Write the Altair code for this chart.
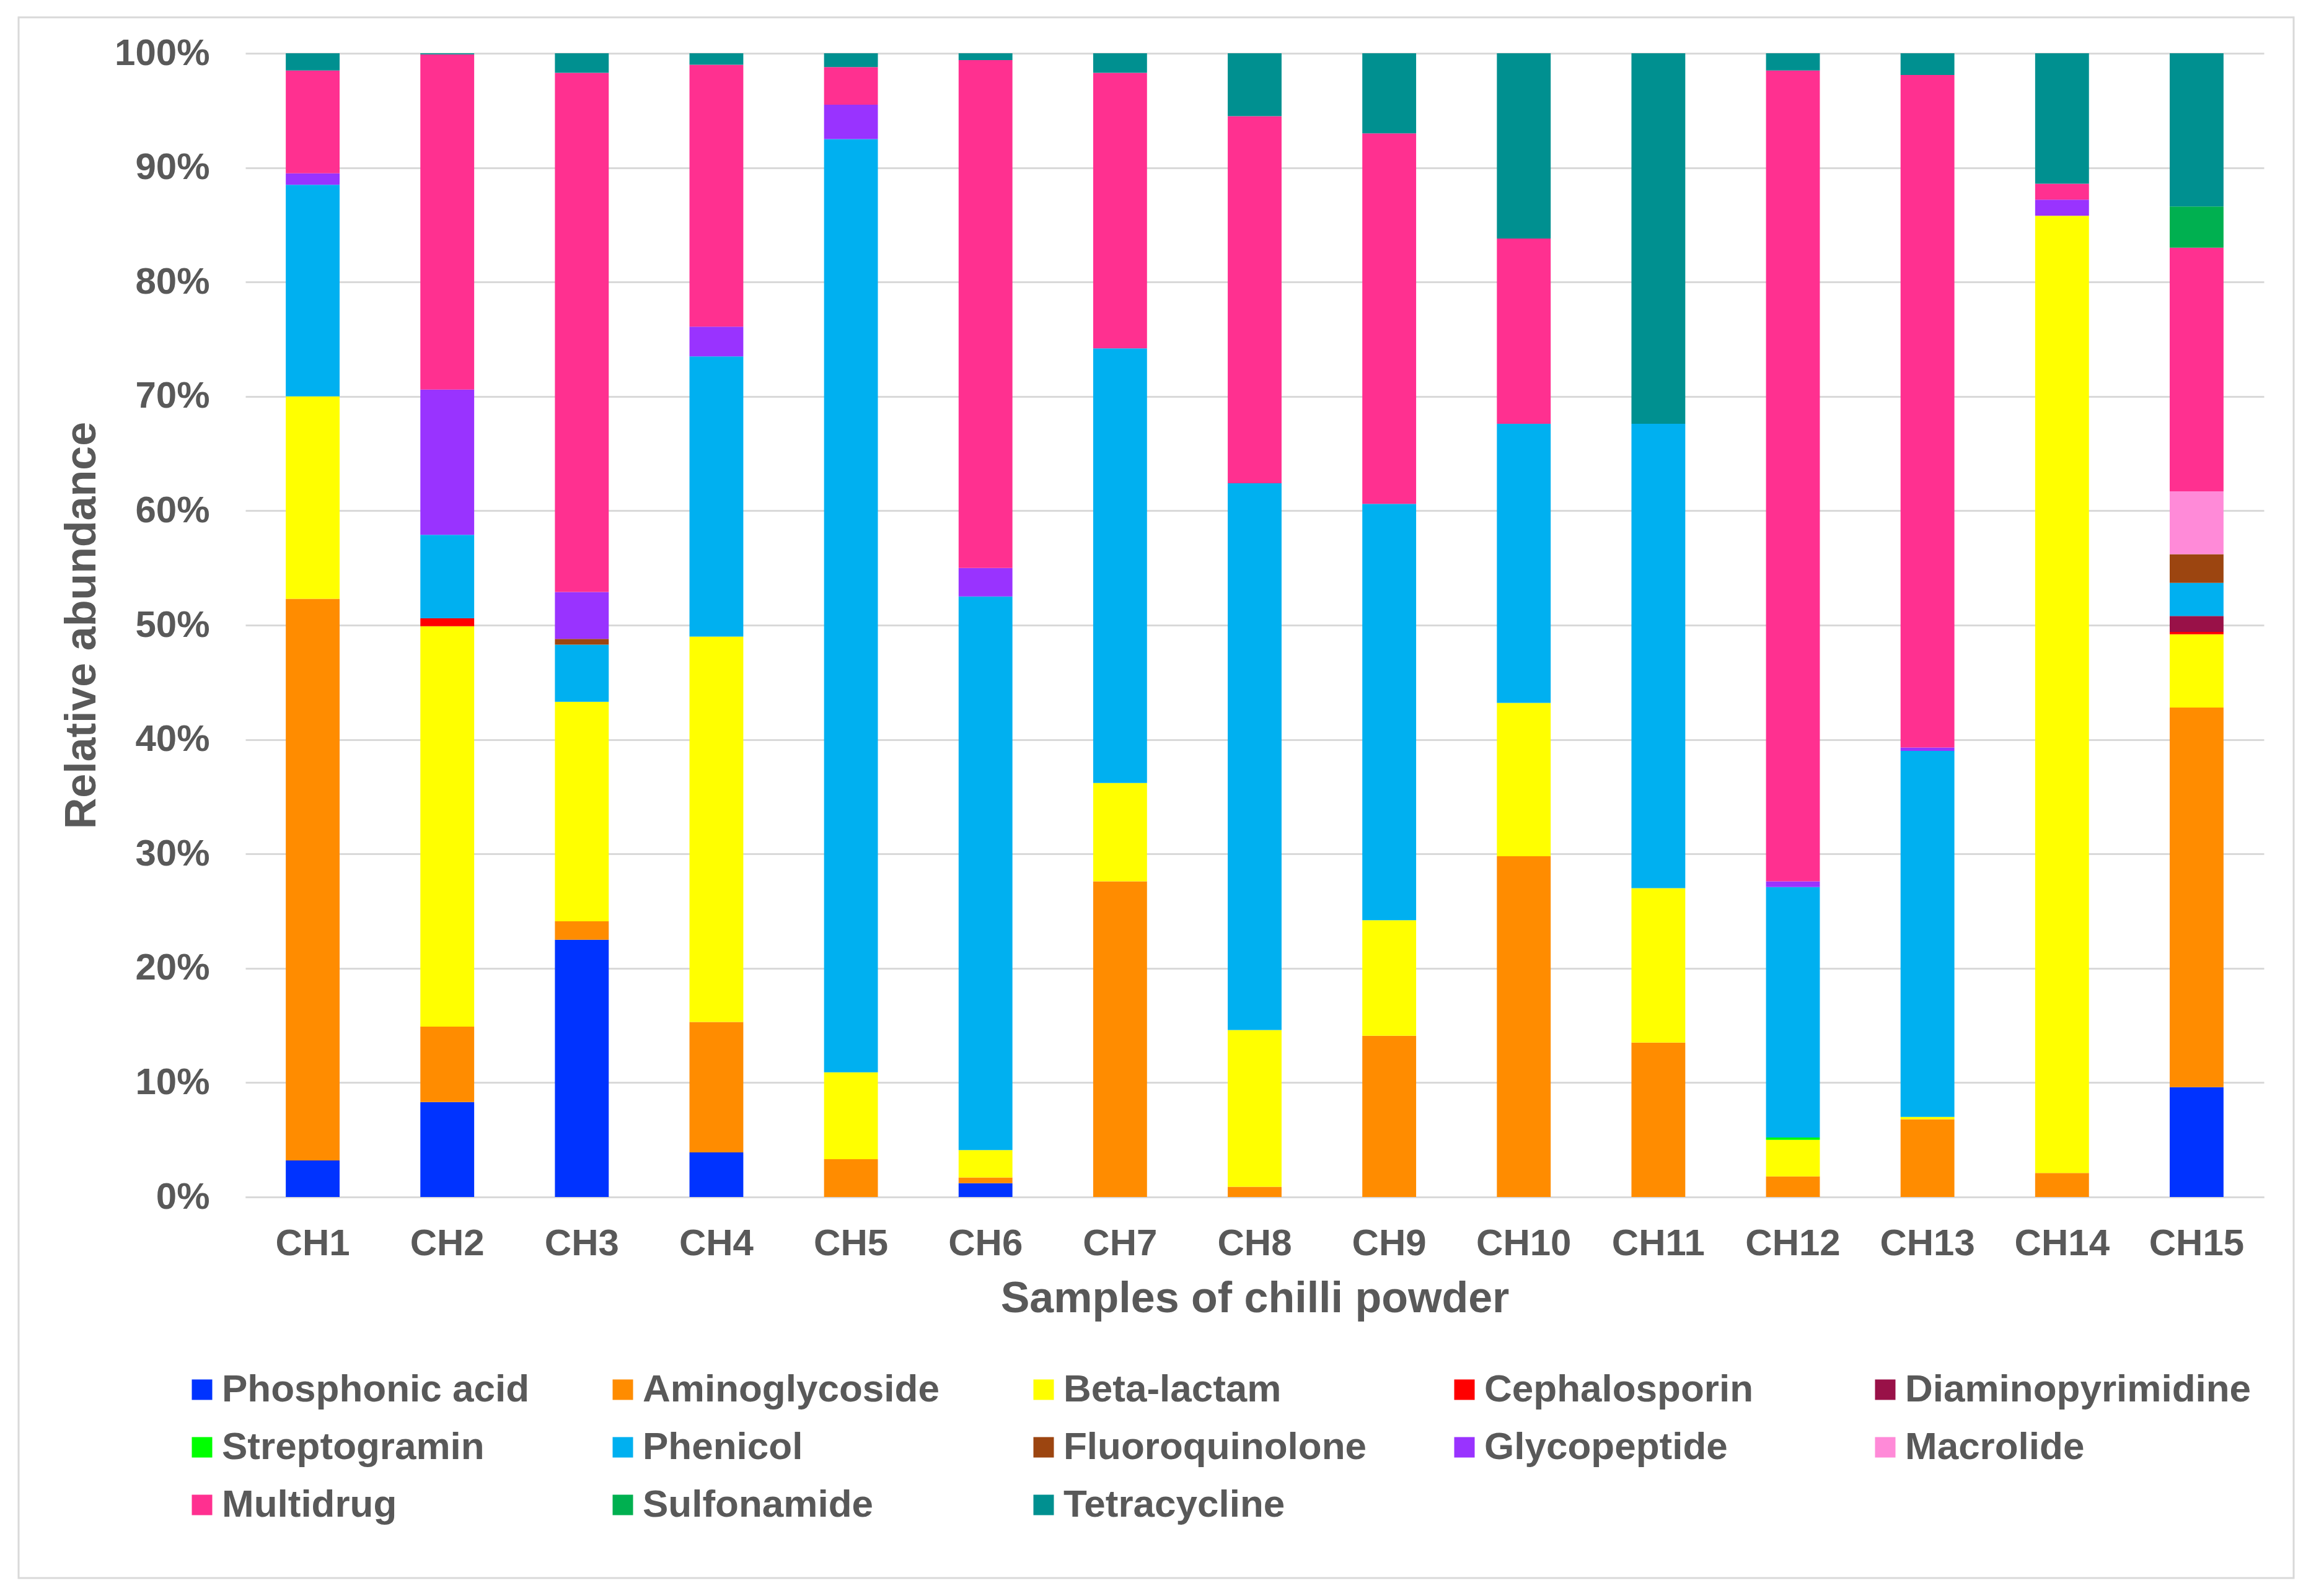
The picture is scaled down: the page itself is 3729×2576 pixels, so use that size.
import altair as alt
import pandas as pd

samples = ["CH1", "CH2", "CH3", "CH4", "CH5", "CH6", "CH7", "CH8",
           "CH9", "CH10", "CH11", "CH12", "CH13", "CH14", "CH15"]

classes = ["Phosphonic acid", "Aminoglycoside", "Beta-lactam", "Cephalosporin",
           "Diaminopyrimidine", "Streptogramin", "Phenicol", "Fluoroquinolone",
           "Glycopeptide", "Macrolide", "Multidrug", "Sulfonamide", "Tetracycline"]

colors = ["#0033FF", "#FF8C00", "#FFFF00", "#FF0000",
          "#991148", "#00FF00", "#00B0F0", "#9C4510",
          "#9933FF", "#FF8AD8", "#FF3090", "#00B050", "#009090"]

# relative abundance (%) per sample, CH1..CH15
phosphonic_acid   = [3.2, 8.3, 22.5, 3.9, 0, 1.2, 0, 0, 0, 0, 0, 0, 0, 0, 9.6]
aminoglycoside    = [49.1, 6.6, 1.6, 11.4, 3.3, 0.5, 27.6, 0.9, 14.1, 29.8, 13.5, 1.8, 6.8, 2.1, 33.2]
beta_lactam       = [17.7, 35.0, 19.2, 33.7, 7.6, 2.4, 8.6, 13.7, 10.1, 13.4, 13.5, 3.2, 0.2, 83.7, 6.4]
cephalosporin     = [0, 0.7, 0, 0, 0, 0, 0, 0, 0, 0, 0, 0, 0, 0, 0.2]
diaminopyrimidine = [0, 0, 0, 0, 0, 0, 0, 0, 0, 0, 0, 0, 0, 0, 1.4]
streptogramin     = [0, 0, 0, 0, 0, 0, 0, 0, 0, 0, 0, 0.2, 0, 0, 0]
phenicol          = [18.5, 7.3, 5.0, 24.5, 81.6, 48.4, 38.0, 47.8, 36.4, 24.4, 40.6, 21.9, 32.0, 0, 2.9]
fluoroquinolone   = [0, 0, 0.5, 0, 0, 0, 0, 0, 0, 0, 0, 0, 0, 0, 2.5]
glycopeptide      = [1.0, 12.7, 4.1, 2.6, 3.0, 2.5, 0, 0, 0, 0, 0, 0.5, 0.3, 1.4, 0]
macrolide         = [0, 0, 0, 0, 0, 0, 0, 0, 0, 0, 0, 0, 0, 0, 5.5]
multidrug         = [9.0, 29.3, 45.4, 22.9, 3.3, 44.4, 24.1, 32.1, 32.4, 16.2, 0, 70.9, 58.8, 1.4, 21.3]
sulfonamide       = [0, 0, 0, 0, 0, 0, 0, 0, 0, 0, 0, 0, 0, 0, 3.6]
tetracycline      = [1.5, 0.1, 1.7, 1.0, 1.2, 0.6, 1.7, 5.5, 7.0, 16.2, 32.4, 1.5, 1.9, 11.4, 13.4]

series = [phosphonic_acid, aminoglycoside, beta_lactam, cephalosporin,
          diaminopyrimidine, streptogramin, phenicol, fluoroquinolone,
          glycopeptide, macrolide, multidrug, sulfonamide, tetracycline]

rows = []
for ci, (cls, vals) in enumerate(zip(classes, series)):
    for s, v in zip(samples, vals):
        if v > 0:
            rows.append({"sample": s, "cls": cls, "value": v, "order": ci})
df = pd.DataFrame(rows)

FONT = "Liberation Sans, Arial, Helvetica, sans-serif"
GRAY = "#595959"
GRID = "#d9d9d9"

bars = alt.Chart(df).mark_bar().encode(
    x=alt.X("sample:N", sort=samples,
            scale=alt.Scale(paddingInner=0.6, paddingOuter=0.3),
            axis=alt.Axis(title="Samples of chilli powder", labelAngle=0,
                          ticks=False, tickSize=0, labelPadding=46,
                          titlePadding=25, domainColor=GRID, domainWidth=3,
                          grid=False)),
    y=alt.Y("value:Q", stack="zero",
            scale=alt.Scale(domain=[0, 100], nice=False, zero=True),
            axis=alt.Axis(title="Relative abundance",
                          values=list(range(0, 101, 10)),
                          labelExpr="datum.value + '%'",
                          ticks=False, tickSize=0, labelPadding=58,
                          titlePadding=28, domain=False,
                          grid=True, gridColor=GRID, gridWidth=3)),
    color=alt.Color("cls:N",
                    scale=alt.Scale(domain=classes, range=colors),
                    sort=classes,
                    legend=alt.Legend(title=None, orient="none",
                                      legendX=-101, legendY=2126,
                                      columns=5, direction="horizontal",
                                      gridAlign="all",
                                      symbolType="square", symbolSize=1089,
                                      symbolStrokeWidth=0, symbolOpacity=1,
                                      labelFontSize=62, labelFont=FONT,
                                      labelFontWeight="bold", labelColor=GRAY,
                                      labelOffset=1, labelLimit=1000,
                                      columnPadding=57, rowPadding=31,
                                      padding=0)),
    order=alt.Order("order:Q", sort="ascending"),
)

frame = alt.Chart(pd.DataFrame({"f": [0]})).mark_rect(
    filled=False, stroke=GRID, strokeWidth=3
).encode(
    x=alt.value(-366), x2=alt.value(3305),
    y=alt.value(-58), y2=alt.value(2461),
)

chart = alt.layer(frame, bars).properties(
    width=3257,
    height=1846,
    autosize=alt.AutoSizeParams(type="none"),
    padding={"left": 388, "top": 78, "right": 68, "bottom": 636},
    background="white",
).configure_view(
    stroke=None
).configure_axis(
    labelFont=FONT, labelFontSize=60, labelFontWeight="bold", labelColor=GRAY,
    titleFont=FONT, titleFontSize=70, titleFontWeight="bold", titleColor=GRAY,
)

chart.save("out.html", embed_options={"renderer": "svg", "actions": False})
